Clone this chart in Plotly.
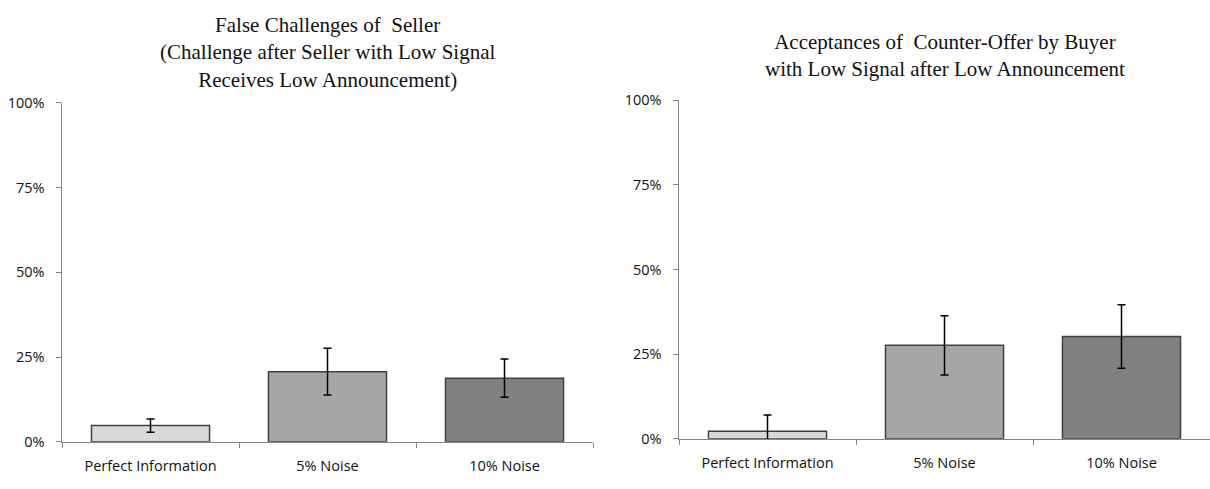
import plotly.graph_objects as go

categories = ["Perfect Information", "5% Noise", "10% Noise"]
left_values = [4.8, 20.7, 18.8]
left_errors = [1.95, 6.9, 5.65]
right_values = [2.2, 27.6, 30.2]
right_errors = [4.8, 8.75, 9.35]
bar_colors = ["#d9d9d9", "#a6a6a6", "#808080"]
y_ticks = [0, 25, 50, 75, 100]
y_tick_labels = ["0%", "25%", "50%", "75%", "100%"]
left_title = "False Challenges of  Seller<br>(Challenge after Seller with Low Signal<br>Receives Low Announcement)"
right_title = "Acceptances of  Counter-Offer by Buyer<br>with Low Signal after Low Announcement"

W, H = 1210, 489

fig = go.Figure()

for i, (vals, errs) in enumerate([(left_values, left_errors), (right_values, right_errors)]):
    fig.add_trace(go.Bar(
        x=categories, y=vals,
        xaxis="x" if i == 0 else "x2", yaxis="y" if i == 0 else "y2",
        marker=dict(color=bar_colors, line=dict(color="#404040", width=1.5)),
        error_y=dict(type="data", array=errs, visible=True, color="#000000",
                     thickness=1.5, width=4),
        showlegend=False, hoverinfo="skip",
    ))

tick_font = dict(family="Open Sans", size=14.5, color="#111111")
xaxis_common = dict(
    type="category", showline=True, linecolor="#868686", linewidth=1.5,
    ticks="outside", tickson="boundaries", ticklen=5, tickcolor="#868686", tickwidth=1,
    showgrid=False, zeroline=False, tickfont=tick_font, ticklabelstandoff=10,
)
yaxis_common = dict(
    range=[0, 100], tickvals=y_ticks, ticktext=y_tick_labels,
    showline=True, linecolor="#868686", linewidth=1.5,
    ticks="outside", ticklen=5, tickcolor="#868686", tickwidth=1,
    showgrid=False, zeroline=False, tickfont=tick_font, ticklabelstandoff=8,
)

fig.update_layout(
    width=W, height=H,
    margin=dict(l=0, r=0, t=0, b=0),
    paper_bgcolor="white", plot_bgcolor="white",
    bargap=0.333,
    xaxis=dict(domain=[62 / W, 593 / W], anchor="y", **xaxis_common),
    yaxis=dict(domain=[1 - 449.3 / H, 1 - 96.7 / H], anchor="x", **yaxis_common),
    xaxis2=dict(domain=[679 / W, 1.0], anchor="y2", **xaxis_common),
    yaxis2=dict(domain=[1 - 446 / H, 1 - 94 / H], anchor="x2", **yaxis_common),
    annotations=[
        dict(text=left_title, xref="paper", yref="paper", x=327.5 / W, y=1 - 44.5 / H,
             xanchor="center", yanchor="middle", showarrow=False,
             font=dict(family="Liberation Serif", size=21, color="#111111")),
        dict(text=right_title, xref="paper", yref="paper", x=944.5 / W, y=1 - 47.5 / H,
             xanchor="center", yanchor="middle", showarrow=False,
             font=dict(family="Liberation Serif", size=21, color="#111111")),
    ],
)

fig.write_html("out.html", config={"displayModeBar": False, "staticPlot": True},
               post_script="document.body.style.margin='0';")
